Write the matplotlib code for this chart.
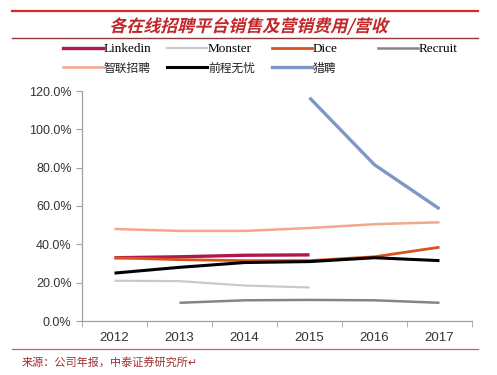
import matplotlib
matplotlib.use('Agg')
import matplotlib.pyplot as plt
import numpy as np
from matplotlib.lines import Line2D
from matplotlib.textpath import TextPath
from matplotlib.patches import PathPatch
from matplotlib.font_manager import FontProperties
from matplotlib.transforms import Affine2D, IdentityTransform

plt.rcParams['font.family'] = ['Liberation Sans', 'Noto Sans CJK SC', 'DejaVu Sans']

# 数据（单位：%）
years = ['2012', '2013', '2014', '2015', '2016', '2017']
nan = np.nan
linkedin = [33.0, 33.5, 34.3, 34.5, nan, nan]
monster = [21.0, 20.8, 18.5, 17.5, nan, nan]
dice = [33.0, 32.0, 31.5, 31.5, 33.5, 38.5]
recruit = [nan, 9.5, 10.8, 11.0, 10.8, 9.5]
zhilian = [48.0, 47.0, 47.0, 48.5, 50.5, 51.5]
qiancheng = [25.0, 28.0, 30.5, 31.0, 33.0, 31.5]
liepin = [nan, nan, nan, 116.5, 81.5, 58.5]

series = [
    ('Linkedin', linkedin, '#B2174C', 2.4),
    ('Monster', monster, '#C9C9C9', 1.6),
    ('Dice', dice, '#D8521E', 2.0),
    ('Recruit', recruit, '#858585', 1.8),
    ('智联招聘', zhilian, '#F5A68C', 1.8),
    ('前程无忧', qiancheng, '#000000', 2.2),
    ('猎聘', liepin, '#7F97C6', 2.4),
]

W, H = 497, 375
fig = plt.figure(figsize=(W / 100, H / 100), dpi=100)
ax = fig.add_axes([82 / W, 1 - 321 / H, 390 / W, 230 / H])

x = np.arange(len(years))
handles = {}
for name, vals, color, lw in series:
    ax.plot(x, vals, color=color, lw=lw, solid_capstyle='butt')
    handles[name] = Line2D([], [], color=color, lw=lw)

ax.set_xlim(-0.5, len(years) - 0.5)
ax.set_ylim(0, 120)
ax.set_yticks(np.arange(0, 121, 20))
ax.set_yticklabels([f'{v:.1f}%' for v in np.arange(0, 121, 20)], fontsize=9, color='#333333')
ax.set_xticks(x)
ax.set_xticklabels(years, fontsize=9.5, color='#333333')
ax.set_xticks(np.arange(-0.5, len(years) + 0.5, 1), minor=True)
ax.tick_params(axis='x', which='major', length=0, pad=8)
ax.tick_params(axis='x', which='minor', length=4, color='#A0A0A0')
ax.tick_params(axis='y', length=4, color='#A0A0A0')
for s in ['top', 'right']:
    ax.spines[s].set_visible(False)
for s in ['left', 'bottom']:
    ax.spines[s].set_color('#A0A0A0')
    ax.spines[s].set_linewidth(0.9)

# 图例：四列，各自定位
columns = [(63, ['Linkedin', '智联招聘']), (167, ['Monster', '前程无忧']),
           (272, ['Dice', '猎聘']), (378, ['Recruit'])]
for xpix, names in columns:
    leg = fig.legend([handles[k] for k in names], names, loc='upper left',
                     bbox_to_anchor=(xpix / W, 1 - 43 / H), frameon=False,
                     handlelength=3.0, handletextpad=0.1, labelspacing=0.55,
                     borderaxespad=0, borderpad=0,
                     prop={'family': ['Liberation Serif', 'Noto Sans CJK SC'], 'size': 9.5})
    for t in leg.get_texts():
        if not t.get_text().isascii():
            t.set_fontsize(8.5)
            t.set_color('#222222')

# 标题（斜体效果）与装饰线
fig.add_artist(Line2D([12 / W, 478 / W], [1 - 11 / H] * 2, color='#D42A2A', lw=1.6))
title = '各在线招聘平台销售及营销费用/营收'
tp = TextPath((0, 0), title, size=17, prop=FontProperties(family='Noto Sans CJK SC', weight='bold'))
ext = tp.get_extents()
tx = W / 2 - (ext.x0 + ext.x1) / 2
ty = (H - 26) - (ext.y0 + ext.y1) / 2
tr = Affine2D().skew_deg(14, 0).translate(tx, ty) + IdentityTransform()
fig.add_artist(PathPatch(tp, transform=tr, color='#C0282A', lw=0))
fig.add_artist(Line2D([12 / W, 478 / W], [1 - 38 / H] * 2, color='#8B3A3A', lw=1.0))
fig.add_artist(Line2D([12 / W, 478 / W], [1 - 349 / H] * 2, color='#B56A6A', lw=0.9))
fig.text(22 / W, 1 - 362 / H, '来源：公司年报，中泰证券研究所↵', ha='left', va='center',
         fontsize=8, color='#A03030', family=['Noto Sans CJK SC', 'DejaVu Sans'])

fig.savefig('out.png', dpi=100)
